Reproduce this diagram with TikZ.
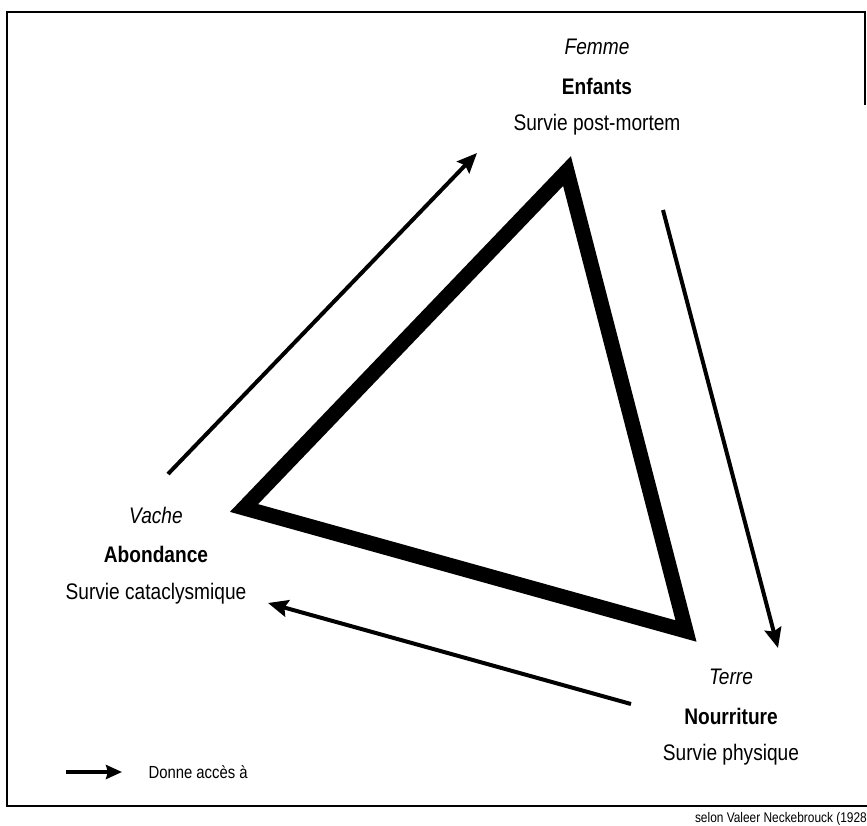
\documentclass[tikz,border=0pt]{standalone}
\usepackage{fontspec}
\setmainfont{Liberation Sans}[FakeStretch=0.85]
\usetikzlibrary{arrows.meta}

\begin{document}
\begin{tikzpicture}[x=1pt,y=-1pt]
            \useasboundingbox (0,0) rectangle (867,825);
            \draw[line width=1.8pt] (865,105) -- (865,12) -- (7,12) -- (7,806) -- (867,806);
            \begin{scope}[every node/.style={font=\fontsize{22.5}{27}\selectfont}]
                \node (femme) at (597,47) {\itshape Femme};
                \node (enfants) at (597,86) {\bfseries Enfants};
                \node (postmortem) at (597,125) {Survie post-mortem};
                \node (vache) at (156,515) {\itshape Vache};
                \node (abondance) at (156,554) {\bfseries Abondance};
                \node (cataclysmique) at (156,594) {Survie cataclysmique};
                \node (terre) at (731,677) {\itshape Terre};
                \node (nourriture) at (731,716) {\bfseries Nourriture};
                \node (physique) at (731,755) {Survie physique};
            \end{scope}
            \node[anchor=west,font=\fontsize{17.5}{21}\selectfont] (donne) at (145,772) {Donne accès à};
            \node[anchor=east,inner sep=0pt,font=\fontsize{14}{17}\selectfont] (selon) at (867,819) {selon Valeer Neckebrouck (1928};
            % sommets du triangle
            \coordinate (haut) at (567,171);
            \coordinate (gauche) at (244,508);
            \coordinate (bas) at (686,631);
            \draw[line width=15pt,line join=miter] (haut) -- (gauche) -- (bas) -- cycle;
            % extremites des fleches
            \coordinate (a1) at (168,474);
            \coordinate (a2) at (477,153);
            \coordinate (b1) at (663,210);
            \coordinate (b2) at (778,648);
            \coordinate (c1) at (631,704);
            \coordinate (c2) at (268,603);
            \coordinate (l1) at (66,772);
            \begin{scope}[every edge/.style={draw,line width=4pt,-{Stealth[length=20pt,width=17pt,inset=3pt]}}]
                \path
                    (a1) edge (a2)
                    (b1) edge (b2)
                    (c1) edge (c2)
                    (l1) edge [-{Stealth[length=16pt,width=14pt,inset=2pt]}] (donne.west -| 122,0);
            \end{scope}
        \end{tikzpicture}
\end{document}
